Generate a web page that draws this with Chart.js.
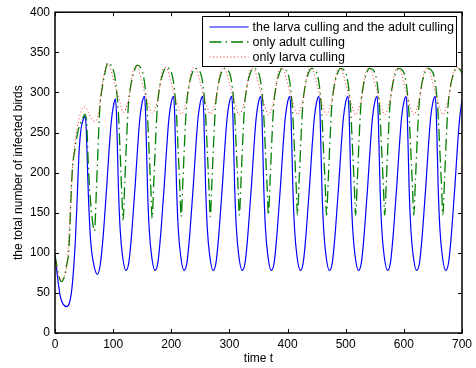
<!DOCTYPE html>
<html>
<head>
<meta charset="utf-8">
<script src="https://cdn.jsdelivr.net/npm/chart.js@4.4.0/dist/chart.umd.min.js"></script>
<style>
  html, body { margin: 0; padding: 0; background: #fff; }
  #wrap { width: 476px; height: 368px; }
</style>
</head>
<body>
<div id="wrap"><canvas id="birdChart" width="476" height="368"></canvas></div>
<script>
// Infected birds over time under three culling strategies
const seriesLabels = [
  "the larva culling and the adult culling",
  "only adult culling",
  "only larva culling"
];

const xTickValues = [0, 100, 200, 300, 400, 500, 600, 700];
const yTickValues = [0, 50, 100, 150, 200, 250, 300, 350, 400];

// larva + adult culling
const bothT = [
  0, 4, 9, 14, 20, 25, 29, 32, 35, 38, 41, 44, 48, 52, 54, 57, 61, 66, 73,
  78, 83, 86, 89, 93, 97, 101, 104, 106, 109, 112, 116, 122,
  127, 132, 135, 138, 142, 146, 150, 154, 156, 159, 162, 166, 172,
  177, 182, 185, 188, 192, 196, 200, 204, 206, 209, 212, 216, 222,
  227, 232, 235, 238, 242, 246, 250, 254, 256, 259, 262, 266, 272,
  277, 282, 285, 288, 292, 296, 300, 304, 306, 309, 312, 316, 322,
  327, 332, 335, 338, 342, 346, 350, 354, 356, 359, 362, 366, 372,
  377, 382, 385, 388, 392, 396, 400, 404, 406, 409, 412, 416, 422,
  427, 432, 435, 438, 442, 446, 450, 454, 456, 459, 462, 466, 472,
  477, 482, 485, 488, 492, 496, 500, 504, 506, 509, 512, 516, 522,
  527, 532, 535, 538, 542, 546, 550, 554, 556, 559, 562, 566, 572,
  577, 582, 585, 588, 592, 596, 600, 604, 606, 609, 612, 616, 622,
  627, 632, 635, 638, 642, 646, 650, 654, 656, 659, 662, 666, 672,
  677, 682, 685, 688, 692, 696, 700
];
const bothV = [
  97, 72, 46, 36, 33, 38, 55, 80, 115, 165, 220, 250, 265, 270, 250, 180, 118, 88, 73,
  86, 122, 152, 183, 228, 265, 285, 292, 268, 183, 130, 97, 78,
  88, 125, 155, 185, 230, 268, 288, 295, 270, 183, 130, 97, 78,
  88, 125, 155, 185, 230, 268, 288, 295, 270, 183, 130, 97, 78,
  88, 125, 155, 185, 230, 268, 288, 295, 270, 183, 130, 97, 78,
  88, 125, 155, 185, 230, 268, 288, 295, 270, 183, 130, 97, 78,
  88, 125, 155, 185, 230, 268, 288, 295, 270, 183, 130, 97, 78,
  88, 125, 155, 185, 230, 268, 288, 295, 270, 183, 130, 97, 78,
  88, 125, 155, 185, 230, 268, 288, 295, 270, 183, 130, 97, 78,
  88, 125, 155, 185, 230, 268, 288, 295, 270, 183, 130, 97, 78,
  88, 125, 155, 185, 230, 268, 288, 295, 270, 183, 130, 97, 78,
  88, 125, 155, 185, 230, 268, 288, 295, 270, 183, 130, 97, 78,
  88, 125, 155, 185, 230, 268, 288, 295, 270, 183, 130, 97, 78,
  88, 125, 155, 185, 230, 268, 290
];

// adult culling only
const adultT = [
  0, 5, 11, 16, 20, 24, 27, 30, 34, 40, 46, 52, 55, 57, 60, 64, 68,
  71, 74, 77, 81, 85, 91, 97, 102, 106, 109, 112, 115, 117,
  120, 123, 126, 130, 135, 141, 147, 152, 156, 159, 162, 165, 167,
  170, 173, 176, 180, 185, 191, 197, 202, 206, 209, 212, 215, 217,
  220, 223, 226, 230, 235, 241, 247, 252, 256, 259, 262, 265, 267,
  270, 273, 276, 280, 285, 291, 297, 302, 306, 309, 312, 315, 317,
  320, 323, 326, 330, 335, 341, 347, 352, 356, 359, 362, 365, 367,
  370, 373, 376, 380, 385, 391, 397, 402, 406, 409, 412, 415, 417,
  420, 423, 426, 430, 435, 441, 447, 452, 456, 459, 462, 465, 467,
  470, 473, 476, 480, 485, 491, 497, 502, 506, 509, 512, 515, 517,
  520, 523, 526, 530, 535, 541, 547, 552, 556, 559, 562, 565, 567,
  570, 573, 576, 580, 585, 591, 597, 602, 606, 609, 612, 615, 617,
  620, 623, 626, 630, 635, 641, 647, 652, 656, 659, 662, 665, 667,
  670, 673, 676, 680, 685, 691, 697, 700
];
const adultV = [
  97, 76, 64, 70, 85, 105, 160, 205, 228, 253, 265, 273, 255, 215, 175, 142, 127,
  175, 230, 280, 305, 321, 337, 333, 323, 302, 275, 225, 172, 141,
  188, 239, 282, 307, 323, 334, 331, 321, 300, 272, 225, 177, 143,
  190, 240, 282, 307, 322, 331, 329, 320, 300, 272, 225, 178, 145,
  190, 240, 282, 307, 322, 330, 328, 320, 300, 272, 226, 179, 145,
  191, 240, 282, 307, 322, 330, 328, 320, 300, 272, 226, 180, 147,
  191, 241, 283, 307, 322, 330, 328, 320, 300, 272, 226, 180, 147,
  191, 241, 283, 307, 322, 330, 328, 320, 300, 272, 226, 180, 147,
  191, 241, 283, 307, 322, 330, 328, 320, 300, 272, 226, 180, 147,
  191, 241, 283, 307, 322, 330, 328, 320, 300, 272, 226, 180, 147,
  191, 241, 283, 307, 322, 330, 328, 320, 300, 272, 226, 180, 147,
  191, 241, 283, 307, 322, 330, 328, 320, 300, 272, 226, 180, 147,
  191, 241, 283, 307, 322, 330, 328, 320, 300, 272, 226, 180, 147,
  192, 242, 283, 307, 322, 330, 328, 324
];

// larva culling only
const larvaT = [
  0, 5, 10, 15, 20, 23, 27, 30, 34, 38, 43, 48, 52, 57, 62, 68, 73,
  77, 82, 86, 91, 96, 100, 107, 112, 117,
  122, 128, 134, 139, 144, 148, 153, 158, 163, 167,
  172, 178, 184, 189, 194, 198, 203, 208, 213, 217,
  222, 228, 234, 239, 244, 248, 253, 258, 263, 267,
  272, 278, 284, 289, 294, 298, 303, 308, 313, 317,
  322, 328, 334, 339, 344, 348, 353, 358, 363, 367,
  372, 378, 384, 389, 394, 398, 403, 408, 413, 417,
  422, 428, 434, 439, 444, 448, 453, 458, 463, 467,
  472, 478, 484, 489, 494, 498, 503, 508, 513, 517,
  522, 528, 534, 539, 544, 548, 553, 558, 563, 567,
  572, 578, 584, 589, 594, 598, 603, 608, 613, 617,
  622, 628, 634, 639, 644, 648, 653, 658, 663, 667,
  672, 678, 684, 689, 694, 700
];
const larvaV = [
  97, 74, 66, 70, 81, 110, 164, 205, 235, 255, 272, 281, 282, 276, 268, 264, 268,
  285, 313, 328, 335, 329, 317, 300, 287, 275,
  280, 297, 326, 332, 328, 317, 303, 290, 279, 274,
  279, 296, 325, 331, 328, 317, 303, 290, 279, 273,
  279, 296, 324, 331, 327, 317, 303, 290, 279, 273,
  279, 296, 324, 330, 327, 317, 303, 290, 278, 272,
  279, 296, 324, 330, 327, 317, 303, 290, 278, 272,
  279, 296, 324, 330, 327, 317, 303, 290, 278, 272,
  279, 296, 324, 330, 327, 317, 303, 290, 278, 272,
  279, 296, 324, 330, 327, 317, 303, 290, 278, 272,
  279, 296, 324, 330, 327, 317, 303, 290, 278, 272,
  279, 296, 324, 330, 327, 317, 303, 290, 278, 272,
  279, 296, 324, 330, 327, 317, 303, 290, 278, 272,
  279, 296, 322, 330, 331, 325
];

const FONT = "'Liberation Sans', Arial, Helvetica, sans-serif";

const toPoints = (ts, vs) => ts.map((t, i) => ({ x: t, y: vs[i] }));

// box around the axes with inward tick marks on all four sides
const axesBox = {
  id: "axesBox",
  afterDatasetsDraw(chart) {
    const { ctx, chartArea: a, scales } = chart;
    const tick = 4;
    ctx.save();
    ctx.strokeStyle = "#000";
    ctx.lineWidth = 1;
    ctx.beginPath();
    xTickValues.forEach(v => {
      const px = Math.round(scales.x.getPixelForValue(v)) + 0.5;
      ctx.moveTo(px, a.bottom); ctx.lineTo(px, a.bottom - tick);
      ctx.moveTo(px, a.top); ctx.lineTo(px, a.top + tick);
    });
    yTickValues.forEach(v => {
      const py = Math.round(scales.y.getPixelForValue(v)) + 0.5;
      ctx.moveTo(a.left, py); ctx.lineTo(a.left + tick, py);
      ctx.moveTo(a.right, py); ctx.lineTo(a.right - tick, py);
    });
    ctx.stroke();
    ctx.lineWidth = 1.5;
    ctx.strokeRect(a.left, a.top, a.right - a.left, a.bottom - a.top);
    ctx.restore();
  }
};

// legend box in the upper right corner of the plot
const boxLegend = {
  id: "boxLegend",
  afterDraw(chart) {
    const { ctx } = chart;
    const left = 202.5, top = 16.5, w = 254, h = 50;
    ctx.save();
    ctx.fillStyle = "#fff";
    ctx.fillRect(left, top, w, h);
    ctx.strokeStyle = "#000";
    ctx.lineWidth = 1;
    ctx.strokeRect(left, top, w, h);
    ctx.font = "12.5px " + FONT;
    ctx.textBaseline = "middle";
    ctx.textAlign = "left";
    chart.data.datasets.forEach((ds, i) => {
      const y = top + 10.5 + i * 15;
      ctx.strokeStyle = ds.borderColor;
      ctx.lineWidth = ds.borderWidth;
      ctx.setLineDash(ds.borderDash || []);
      ctx.beginPath();
      ctx.moveTo(left + 7, y);
      ctx.lineTo(left + 46, y);
      ctx.stroke();
      ctx.setLineDash([]);
      ctx.fillStyle = "#000";
      ctx.fillText(ds.label, left + 50, y + 0.5);
    });
    ctx.restore();
  }
};

const birdData = {
  datasets: [
    {
      label: seriesLabels[0],
      data: toPoints(bothT, bothV),
      borderColor: "#0000ff",
      borderWidth: 1.2,
      order: 2,
    },
    {
      label: seriesLabels[1],
      data: toPoints(adultT, adultV),
      borderColor: "#008000",
      borderWidth: 1.3,
      borderDash: [12, 4, 1.5, 4],
      order: 1,
    },
    {
      label: seriesLabels[2],
      data: toPoints(larvaT, larvaV),
      borderColor: "rgba(255, 0, 0, 0.85)",
      borderWidth: 1,
      borderDash: [1, 2.5],
      order: 0,
    },
  ]
};

const birdConfig = {
  type: "line",
  data: birdData,
  options: {
    responsive: false,
    animation: false,
    events: [],
    parsing: false,
    elements: {
      point: { radius: 0 },
      line: { fill: false, cubicInterpolationMode: "monotone" },
    },
    layout: { padding: { top: 10, right: 11, left: 0, bottom: 0 } },
    plugins: {
      legend: { display: false },
      tooltip: { enabled: false },
    },
    scales: {
      x: {
        type: "linear",
        min: 0,
        max: 700,
        afterBuildTicks: (scale) => { scale.ticks = xTickValues.map(v => ({ value: v })); },
        afterFit: (scale) => { scale.height = 35; },
        grid: { display: false, drawTicks: false },
        border: { display: false },
        ticks: {
          padding: 4,
          color: "#000",
          font: { family: FONT, size: 12 },
          maxRotation: 0,
        },
        title: {
          display: true,
          text: "time t",
          color: "#000",
          font: { family: FONT, size: 12 },
          padding: { top: 0, bottom: 2 },
        },
      },
      y: {
        min: 0,
        max: 400,
        afterBuildTicks: (scale) => { scale.ticks = yTickValues.map(v => ({ value: v })); },
        afterFit: (scale) => { scale.width = 55; },
        grid: { display: false, drawTicks: false },
        border: { display: false },
        ticks: {
          padding: 5,
          color: "#000",
          font: { family: FONT, size: 12 },
        },
        title: {
          display: true,
          text: "the total number of infected birds",
          color: "#000",
          font: { family: FONT, size: 12 },
          padding: { top: 11, bottom: 0 },
        },
      },
    },
  },
  plugins: [axesBox, boxLegend],
};

const birdChart = new Chart(document.getElementById("birdChart").getContext("2d"), birdConfig);
</script>
</body>
</html>
